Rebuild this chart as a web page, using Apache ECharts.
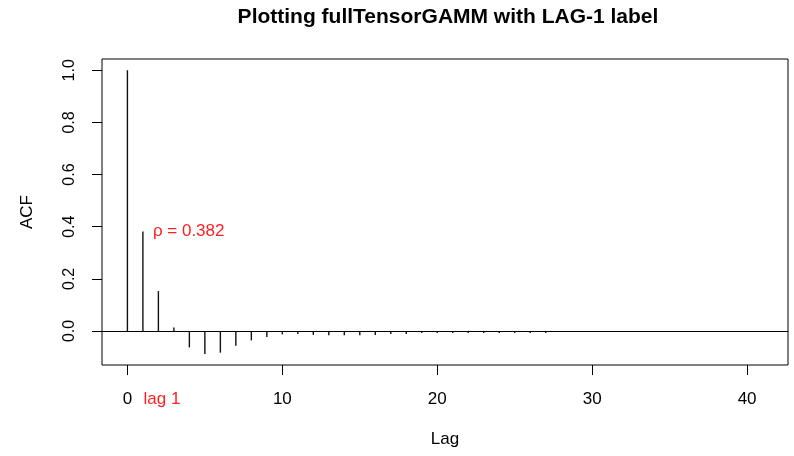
<!DOCTYPE html>
<html>
<head>
<meta charset="utf-8">
<script src="https://cdn.jsdelivr.net/npm/echarts@6/dist/echarts.min.js"></script>
<style>
  html, body { margin: 0; padding: 0; background: #fff; }
  #chart { width: 794px; height: 456px; }
</style>
</head>
<body>
<div id="chart"></div>
<script>
// ACF values by lag
var lags = [];
for (var k = 0; k <= 41; k++) lags.push(k);
var acfValues = [
    1.0, 0.382, 0.153, 0.013, -0.063, -0.088, -0.083, -0.057, -0.036, -0.023,
    -0.013, -0.012, -0.015, -0.016, -0.016, -0.016, -0.015, -0.012, -0.012, -0.008,
    -0.008, -0.008, -0.008, -0.008, -0.008, -0.008, -0.008, -0.008, 0, 0,
    0, 0, 0, 0, 0, 0, 0, 0, 0, 0,
    0, 0
];
var xTicks = [0, 10, 20, 30, 40];
var xLabels = [0, 1, 10, 20, 30, 40];
var yTicks = [0, 0.2, 0.4, 0.6, 0.8, 1.0];
var lag1Value = 0.382;

var font = 'Liberation Sans, Arial, sans-serif';
var red = '#ff1f1f';

var acfData = lags.map(function (lag, i) { return [lag, acfValues[i]]; });

var chart = echarts.init(document.getElementById('chart'));
chart.setOption({
    animation: false,
    backgroundColor: '#fff',
    title: {
        text: 'Plotting fullTensorGAMM with LAG-1 label',
        left: 443,
        top: 2,
        textAlign: 'center',
        textStyle: { fontFamily: font, fontWeight: 'bold', fontSize: 21, color: '#000' }
    },
    grid: {
        left: 102, right: 6, top: 59, bottom: 91,
        show: true, borderColor: '#000', borderWidth: 1,
        containLabel: false, outerBoundsMode: 'none'
    },
    xAxis: {
        type: 'value',
        min: -1.64,
        max: 42.64,
        name: 'Lag',
        nameLocation: 'middle',
        nameGap: 66,
        nameTextStyle: { fontFamily: font, fontSize: 17, color: '#000' },
        axisLine: { show: false, onZero: false },
        splitLine: { show: false },
        axisTick: {
            show: true, inside: false, length: 10,
            customValues: xTicks,
            lineStyle: { color: '#000', width: 1 }
        },
        axisLabel: {
            customValues: xLabels,
            margin: 26,
            fontFamily: font, fontSize: 17, color: '#000',
            formatter: function (v) { return v === 1 ? '{r|lag 1}' : String(v); },
            rich: { r: { color: red, fontFamily: font, fontSize: 17, padding: [0, 0, 0, 38] } }
        }
    },
    yAxis: {
        type: 'value',
        min: -0.1305,
        max: 1.0435,
        name: 'ACF',
        nameLocation: 'middle',
        nameGap: 66,
        nameTextStyle: { fontFamily: font, fontSize: 17, color: '#000' },
        axisLine: { show: false, onZero: false },
        splitLine: { show: false },
        axisTick: {
            show: true, inside: false, length: 10,
            customValues: yTicks,
            lineStyle: { color: '#000', width: 1 }
        },
        axisLabel: {
            customValues: yTicks,
            rotate: 90,
            margin: 24,
            fontFamily: font, fontSize: 16, color: '#000',
            formatter: function (v) { return v.toFixed(1); }
        }
    },
    series: [
        {
            type: 'custom',
            name: 'ACF',
            data: acfData,
            renderItem: function (params, api) {
                var p0 = api.coord([api.value(0), 0]);
                var p1 = api.coord([api.value(0), api.value(1)]);
                return {
                    type: 'line',
                    shape: { x1: p0[0], y1: p0[1], x2: p1[0], y2: p1[1] },
                    style: { stroke: '#111', lineWidth: 1.4 }
                };
            },
            markLine: {
                silent: true,
                symbol: 'none',
                label: { show: false },
                lineStyle: { color: '#000', width: 1, type: 'solid' },
                data: [{ yAxis: 0 }]
            }
        },
        {
            type: 'custom',
            name: 'rho',
            data: [[1, lag1Value]],
            renderItem: function (params, api) {
                var p = api.coord([api.value(0), api.value(1)]);
                return {
                    type: 'text',
                    x: p[0] + 10,
                    y: p[1],
                    style: {
                        text: 'ρ = ' + lag1Value.toFixed(3),
                        fill: red,
                        font: '17px ' + font,
                        verticalAlign: 'middle',
                        align: 'left'
                    }
                };
            }
        }
    ]
});
</script>
</body>
</html>
